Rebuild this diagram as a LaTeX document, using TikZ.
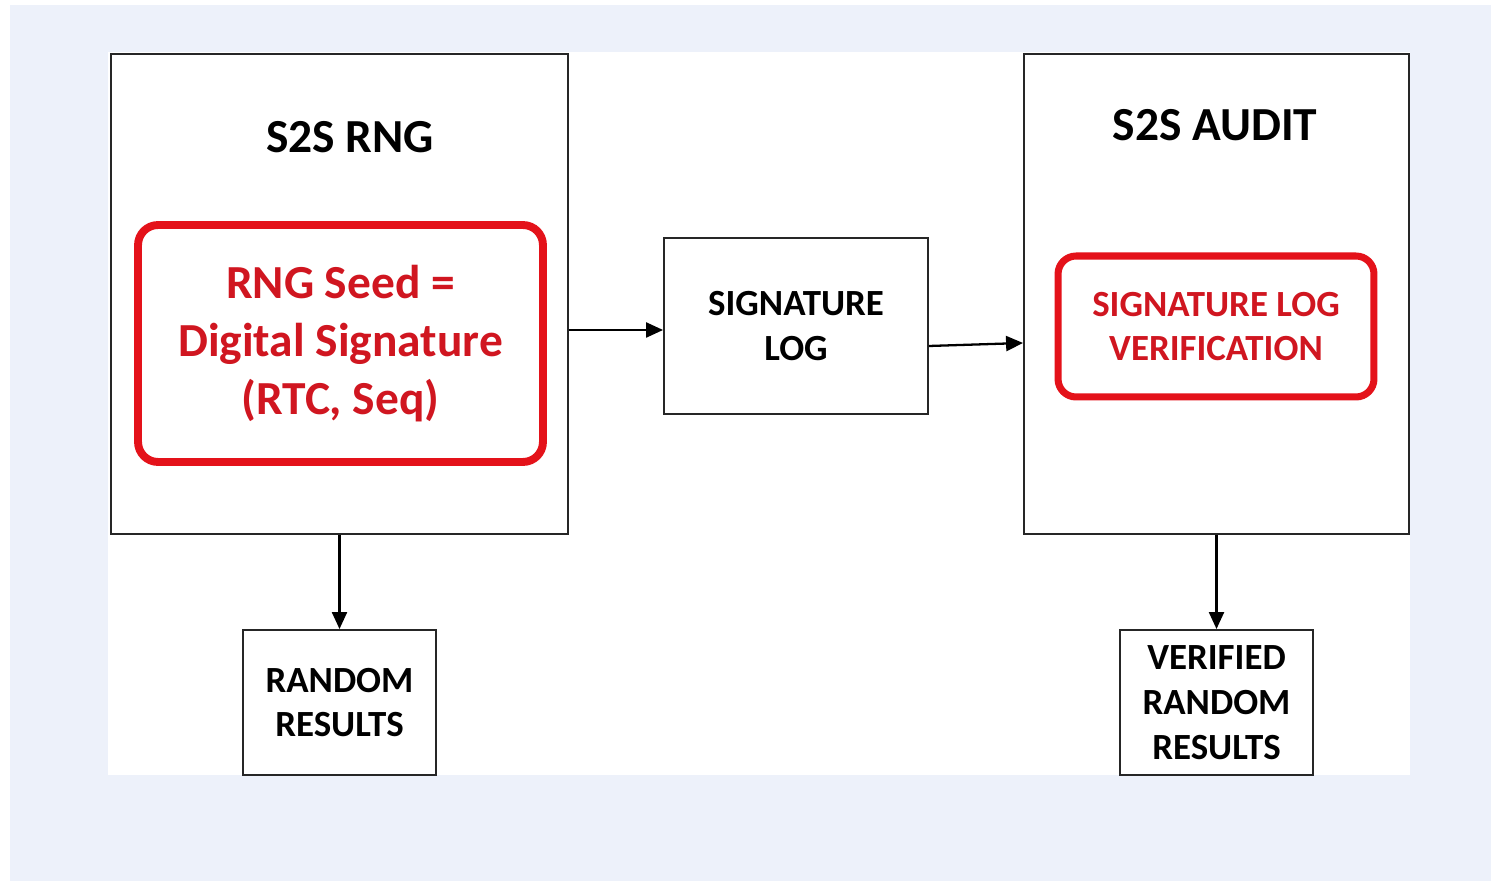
\documentclass[tikz,border=0pt]{standalone}
\usepackage{fontspec}
\setmainfont{Carlito}
\usetikzlibrary{arrows.meta}

\definecolor{bgblue}{RGB}{237,241,250}
\definecolor{sealred}{RGB}{228,18,26}
\definecolor{textred}{RGB}{208,22,32}

\tikzset{
  blockbox/.style={draw=black!85, line width=1.1pt, inner sep=0pt, align=center,
    font=\bfseries\fontsize{21}{25.5}\selectfont},
  redbox/.style={draw=sealred, line width=4.5pt, rounded corners=0.4cm, inner sep=0pt,
    text=textred, align=center},
  titletext/.style={font=\bfseries\fontsize{27}{33}\selectfont},
  arr/.style={line width=1.3pt, -{Triangle[length=0.34cm,width=0.3cm]}}
}

\begin{document}
\begin{tikzpicture}[x=0.02cm, y=-0.02cm]
\useasboundingbox (0,0) rectangle (1491,881);
\fill[bgblue] (10,5) rectangle (1491,881);
\fill[white] (108,52) rectangle (1410,775);

% generator side
\node[blockbox, minimum width=9.14cm, minimum height=9.6cm] (rng) at (339.5,294) {};
\node[titletext] (rngtitle) at (350,137) {S2S RNG};
\node[redbox, minimum width=8.1cm, minimum height=4.74cm,
  font=\bfseries\fontsize{27}{33}\selectfont] (seed) at (340.5,343.5)
  {RNG Seed =\\Digital Signature\\(RTC, Seq)};

\node[blockbox, minimum width=5.28cm, minimum height=3.52cm] (siglog) at (796,326)
  {SIGNATURE\\LOG};

% audit side
\node[blockbox, minimum width=7.7cm, minimum height=9.6cm] (audit) at (1216.5,294) {};
\node[titletext] (audittitle) at (1215,125) {S2S AUDIT};
\node[redbox, line width=4pt, rounded corners=0.36cm, minimum width=6.32cm, minimum height=2.82cm,
  font=\bfseries\fontsize{21}{25.5}\selectfont] (verify) at (1216,326.5)
  {SIGNATURE LOG\\VERIFICATION};

% outputs
\node[blockbox, minimum width=3.86cm, minimum height=2.9cm] (rnd) at (339.5,702.5)
  {RANDOM\\RESULTS};
\node[blockbox, minimum width=3.86cm, minimum height=2.9cm] (vrnd) at (1216.5,702.5)
  {VERIFIED\\RANDOM\\RESULTS};

\draw[arr] ([yshift=-0.08cm]rng.east |- siglog.west) -- ([yshift=-0.08cm]siglog.west);
\draw[arr] ([yshift=-0.4cm]siglog.east) -- ([yshift=-0.34cm]siglog.east -| audit.west);
\draw[arr] (rng.south) -- (rnd.north);
\draw[arr] (audit.south) -- (vrnd.north);
\end{tikzpicture}
\end{document}
